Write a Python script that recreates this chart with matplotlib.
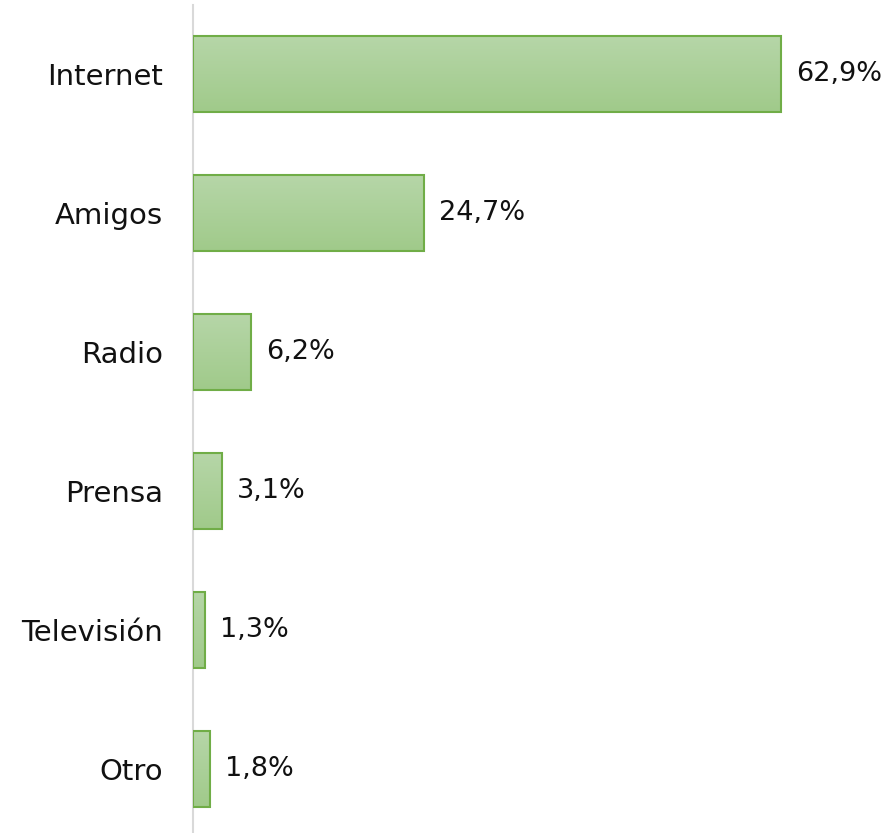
import matplotlib
matplotlib.use("Agg")
import matplotlib.pyplot as plt
import numpy as np
from matplotlib.colors import LinearSegmentedColormap

categories = ["Internet", "Amigos", "Radio", "Prensa", "Televisión", "Otro"]
values = [62.9, 24.7, 6.2, 3.1, 1.3, 1.8]
labels = ["62,9%", "24,7%", "6,2%", "3,1%", "1,3%", "1,8%"]

plt.rcParams['font.family'] = ['DejaVu Sans']

fig = plt.figure(figsize=(8.89, 8.33), dpi=100)
ax = fig.add_axes([193/889, -5.5/833, (889-193)/889, 834/833])

cmap = LinearSegmentedColormap.from_list("g", ["#a0ca8a", "#b6d6a8"])
grad = np.linspace(0, 1, 256).reshape(-1, 1)

ys = np.arange(len(categories))
bars = ax.barh(ys, values, height=0.54, color="none", edgecolor="#70ad47", linewidth=1.5, zorder=3)
for b in bars:
    x0, y0 = b.get_x(), b.get_y()
    w, h = b.get_width(), b.get_height()
    im = ax.imshow(grad, cmap=cmap, extent=[x0, x0 + w, y0 + h, y0], aspect="auto",
                   origin="lower", zorder=2, interpolation="bicubic")
    im.set_clip_path(b)

for y, v, lab in zip(ys, values, labels):
    ax.text(v + 1.6, y, lab, va="center", ha="left", fontsize=19.5, color="#111111")

ax.set_xlim(0, 74.4)
ax.set_ylim(len(categories) - 0.5, -0.5)
ax.set_yticks(ys)
ax.set_yticklabels(categories, fontsize=21, color="#111111")
ax.tick_params(axis="y", length=0, pad=21.6)
ax.set_xticks([])
for s in ["top", "right", "bottom"]:
    ax.spines[s].set_visible(False)
ax.spines["left"].set_color("#d9d9d9")
ax.spines["left"].set_linewidth(1.5)

fig.savefig("out.png", dpi=100)
